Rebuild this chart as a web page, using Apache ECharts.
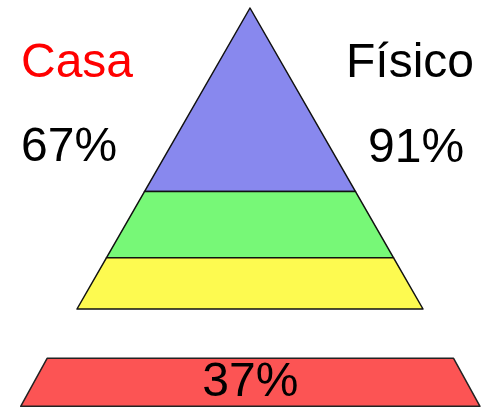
<!DOCTYPE html>
<html>
<head>
<meta charset="utf-8">
<script src="https://cdn.jsdelivr.net/npm/echarts@6/dist/echarts.min.js"></script>
<style>
  html, body { margin: 0; padding: 0; background: #ffffff; }
  #chart { width: 489px; height: 411px; }
</style>
</head>
<body>
<div id="chart"></div>
<script>
// ---- data ----
const pyramidLevels = ['Nivel superior', 'Nivel medio', 'Nivel base'];
const pyramidValues = [61, 83, 100];
const sideLabels = ['Casa', 'Físico'];
const sideValues = [67, 91];
const baseLabels = ['Base'];
const baseValues = [37];

// ---- styles ----
const pyramidColors = ['#8888ee', '#77f877', '#fdfa50'];
const baseColor = '#fc5454';
const fontFamily = 'Liberation Sans, Arial, sans-serif';

const pyrTop = 8, pyrHeight = 301, pyrLeft = 77, pyrWidth = 346;
const vmax = Math.max.apply(null, pyramidValues);

const pyramidData = pyramidLevels.map(function (name, i) {
  const prev = i === 0 ? 0 : pyramidValues[i - 1];
  return {
    name: name,
    value: pyramidValues[i],
    itemStyle: {
      color: pyramidColors[i],
      height: (pyramidValues[i] - prev) / vmax * pyrHeight
    }
  };
});

const baseData = baseLabels.map(function (name, i) {
  return { name: name, value: baseValues[i], itemStyle: { color: baseColor } };
});

function sideTitle(text, left, top, color) {
  return {
    text: text, left: left, top: top, padding: 0,
    textStyle: { color: color, fontSize: 48, fontWeight: 'normal', fontFamily: fontFamily }
  };
}

const chart = echarts.init(document.getElementById('chart'), null, { renderer: 'canvas' });
chart.setOption({
  backgroundColor: '#ffffff',
  animation: false,
  title: [
    sideTitle(sideLabels[0], 21, 40, '#ff0000'),
    sideTitle(sideValues[0] + '%', 21, 124, '#000000'),
    sideTitle(sideLabels[1], 346, 40, '#000000'),
    sideTitle(sideValues[1] + '%', 368, 125, '#000000')
  ],
  series: [
    {
      type: 'funnel',
      sort: 'ascending',
      left: pyrLeft, top: pyrTop, width: pyrWidth, height: pyrHeight,
      min: 0, max: vmax,
      minSize: '0%', maxSize: '100%',
      gap: 0,
      label: { show: false },
      labelLine: { show: false },
      itemStyle: { borderColor: '#111111', borderWidth: 1.5 },
      emphasis: { disabled: true },
      data: pyramidData
    },
    {
      type: 'funnel',
      sort: 'ascending',
      left: 20.7, top: 358.3, width: 459.3, height: 48,
      min: 0, max: baseValues[0],
      minSize: '88.5%', maxSize: '100%',
      gap: 0,
      label: {
        show: true, position: 'inside', formatter: '{c}%',
        color: '#000000', fontSize: 48, fontFamily: fontFamily, offset: [0, -6]
      },
      labelLine: { show: false },
      itemStyle: { borderColor: '#222222', borderWidth: 1.5 },
      emphasis: { disabled: true },
      data: baseData
    }
  ]
});
</script>
</body>
</html>
